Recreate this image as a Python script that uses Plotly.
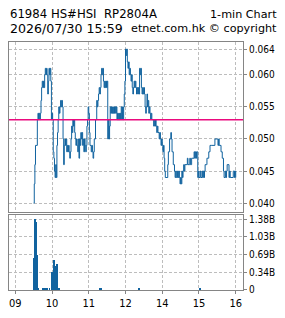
import plotly.graph_objects as go

# ---------------- data ----------------
price_times = [
    "09:30","09:31","09:32","09:33","09:36","09:37","09:38","09:39","09:40","09:41",
    "09:42","09:43","09:44","09:45","09:46","09:47","09:48","09:49","09:50","09:51",
    "09:52","09:53","09:54","09:55","09:56","09:57","09:58","09:59","10:00","10:01",
    "10:02","10:03","10:04","10:05","10:06","10:07","10:08","10:09","10:10","10:11",
    "10:12","10:13","10:14","10:15","10:16","10:17","10:18","10:19","10:20","10:21",
    "10:22","10:23","10:24","10:25","10:26","10:27","10:28","10:29","10:30","10:31",
    "10:32","10:33","10:34","10:35","10:36","10:37","10:38","10:39","10:40","10:41",
    "10:42","10:43","10:44","10:45","10:46","10:47","10:48","10:49","10:50","10:51",
    "10:52","10:53","10:54","10:55","10:56","10:57","10:58","10:59","11:00","11:01",
    "11:02","11:04","11:05","11:06","11:07","11:08","11:09","11:11","11:13","11:14",
    "11:15","11:16","11:17","11:18","11:19","11:20","11:21","11:22","11:23","11:24",
    "11:25","11:26","11:27","11:28","11:29","11:30","11:31","11:32","11:33","11:34",
    "11:35","11:36","11:37","11:38","11:39","11:40","11:41","11:42","11:43","11:44",
    "11:45","11:46","11:47","11:48","11:49","11:50","11:51","11:52","11:53","11:54",
    "11:55","11:56","11:57","11:58","11:59",
    "13:00","13:01","13:02","13:03","13:04","13:05","13:06","13:07","13:08","13:09",
    "13:10","13:11","13:12","13:13","13:14","13:15","13:16","13:17","13:18","13:19",
    "13:20","13:21","13:22","13:23","13:24","13:25","13:26","13:27","13:28","13:29",
    "13:30","13:31","13:32","13:33","13:34","13:35","13:36","13:37","13:38","13:39",
    "13:40","13:41","13:42","13:43","13:46","13:47","13:48","13:49","13:50","13:51",
    "13:52","13:53","13:55","13:56","13:57","13:58","13:59","14:00","14:01","14:02",
    "14:03","14:04","14:05","14:09","14:10","14:12","14:14","14:15","14:16","14:18",
    "14:20","14:21","14:22","14:23","14:25","14:26","14:27","14:28","14:29","14:30",
    "14:31","14:32","14:33","14:34","14:35","14:36","14:37","14:41","14:42","14:44",
    "14:45","14:46","14:48","14:52","14:53","14:54","14:55","14:56","14:58","14:59",
    "15:00","15:02","15:03","15:05","15:06","15:07","15:08","15:09","15:10","15:12",
    "15:13","15:15","15:16","15:18","15:21","15:26","15:31","15:32","15:33","15:36",
    "15:38","15:40","15:41","15:43","15:44","15:45","15:46","15:49","15:50","15:51",
    "15:56","15:58","15:59","16:00",
]
price_values = [
    0.040,0.043,0.046,0.049,0.053,0.054,0.053,0.054,0.053,0.054,
    0.056,0.058,0.059,0.058,0.059,0.058,0.060,0.061,0.060,0.061,
    0.060,0.057,0.059,0.061,0.060,0.061,0.059,0.053,0.054,0.053,
    0.048,0.047,0.045,0.044,0.046,0.044,0.049,0.051,0.053,0.055,
    0.054,0.055,0.056,0.055,0.056,0.055,0.050,0.046,0.049,0.050,
    0.049,0.050,0.048,0.049,0.048,0.049,0.048,0.047,0.048,0.050,
    0.052,0.051,0.053,0.052,0.053,0.051,0.050,0.049,0.050,0.049,
    0.048,0.050,0.047,0.050,0.049,0.051,0.050,0.051,0.049,0.050,
    0.048,0.050,0.049,0.048,0.049,0.052,0.053,0.055,0.054,0.051,
    0.049,0.048,0.049,0.048,0.047,0.048,0.050,0.053,0.056,0.055,
    0.056,0.057,0.058,0.057,0.058,0.060,0.061,0.060,0.061,0.059,
    0.058,0.059,0.058,0.059,0.058,0.059,0.050,0.053,0.050,0.052,
    0.055,0.054,0.055,0.054,0.055,0.054,0.055,0.054,0.055,0.054,
    0.055,0.053,0.054,0.053,0.054,0.053,0.054,0.053,0.055,0.053,
    0.055,0.053,0.055,0.057,0.059,
    0.064,0.063,0.064,0.062,0.061,0.062,0.060,0.061,0.060,0.059,
    0.060,0.058,0.057,0.058,0.059,0.058,0.059,0.058,0.057,0.058,
    0.057,0.058,0.057,0.061,0.060,0.061,0.058,0.057,0.058,0.057,
    0.058,0.057,0.055,0.054,0.055,0.057,0.055,0.056,0.054,0.055,
    0.054,0.053,0.054,0.053,0.052,0.053,0.052,0.053,0.052,0.051,
    0.052,0.051,0.050,0.051,0.050,0.049,0.050,0.049,0.048,0.049,
    0.047,0.045,0.044,0.046,0.048,0.050,0.051,0.050,0.048,0.046,
    0.045,0.044,0.045,0.044,0.045,0.044,0.045,0.044,0.043,0.044,
    0.043,0.045,0.044,0.045,0.046,0.045,0.046,0.047,0.046,0.046,
    0.047,0.046,0.047,0.048,0.047,0.048,0.047,0.048,0.044,0.045,
    0.044,0.045,0.044,0.045,0.044,0.045,0.044,0.045,0.046,0.046,
    0.047,0.047,0.048,0.049,0.049,0.050,0.049,0.050,0.049,0.048,
    0.047,0.045,0.044,0.045,0.044,0.045,0.046,0.044,0.045,0.044,
    0.045,0.044,0.045,0.044,
]
prev_close = 0.053

vol_times = ["09:31","09:32","09:34","09:35","09:37","09:38","09:45","09:49","09:52","09:56",
             "10:00","10:02","10:03","10:05","10:07","10:08","10:10","10:11",
             "11:18","11:20","13:22","15:01"]
vol_values = [0.62e9,1.38e9,1.32e9,0.68e9,0.04e9,0.025e9,0.015e9,0.015e9,0.015e9,0.015e9,
              0.335e9,0.27e9,0.57e9,0.30e9,0.46e9,0.50e9,0.02e9,0.02e9,
              0.015e9,0.015e9,0.015e9,0.015e9]

price_ticks = [0.040, 0.045, 0.050, 0.055, 0.060, 0.064]
vol_ticks = [0, 0.345e9, 0.69e9, 1.035e9, 1.38e9]
vol_tick_text = ["0", "0.34B", "0.69B", "1.03B", "1.38B"]
hour_ticks = ["09:00", "10:00", "11:00", "12:00", "14:00", "15:00", "16:00"]
hour_labels = ["09", "10", "11", "12", "14", "15", "16"]

title_left = "61984 HS#HSI  RP2804A"
title_right = "1-min Chart"
sub_left = "2026/07/30 15:59"
sub_right = "etnet.com.hk © copyright"


def tpos(s):
    """trading-time axis position: lunch break (12:00-13:00) removed"""
    h, m = map(int, s.split(":"))
    v = h + m / 60.0
    return v if h < 13 else v - 1.0


W, H = 285, 318
L, R, T, B = 8, 42, 42, 20
plot_h = H - T - B

LINE_BLUE = "#11639f"
PINK = "#ea0a7e"
FRAME = "#858585"
GRID = "#bdbdbd"
TICKFONT = dict(family="DejaVu Sans Condensed, Liberation Sans Narrow, DejaVu Sans", size=10, color="#000")

fig = go.Figure()
fig.add_trace(go.Scatter(
    x=[tpos(t) for t in price_times], y=price_values, mode="lines",
    line=dict(color=LINE_BLUE, width=1, shape="hv"), xaxis="x", yaxis="y",
    hoverinfo="skip", showlegend=False))
fig.add_trace(go.Scatter(
    x=[8.8, 15.2], y=[prev_close, prev_close], mode="lines",
    line=dict(color=PINK, width=1.5), xaxis="x", yaxis="y",
    hoverinfo="skip", showlegend=False))
fig.add_trace(go.Bar(
    x=[tpos(t) for t in vol_times], y=vol_values, width=1.4 / 60,
    marker=dict(color=LINE_BLUE, line=dict(width=0)), xaxis="x2", yaxis="y2",
    hoverinfo="skip", showlegend=False))

xr = [8.829, 15.198]
tickv = [tpos(t) for t in hour_ticks]
common_x = dict(range=xr, showline=True, mirror=True, linecolor=FRAME, linewidth=1,
                showgrid=True, gridcolor=GRID, griddash="3px,2px", gridwidth=1,
                tickmode="array", tickvals=tickv, ticktext=hour_labels,
                zeroline=False, fixedrange=True)

main_bottom = (H - B - 217) / plot_h
vol_top = (H - B - 221) / plot_h

fig.update_layout(
    width=W, height=H, margin=dict(l=L, r=R, t=T, b=B, pad=0),
    paper_bgcolor="white", plot_bgcolor="white",
    bargap=0,
    xaxis=dict(**common_x, domain=[0, 1], anchor="y", showticklabels=False, ticks=""),
    xaxis2=dict(**common_x, domain=[0, 1], anchor="y2", showticklabels=True,
                ticks="outside", ticklen=3, tickcolor=FRAME,
                tickfont=dict(TICKFONT, size=11)),
    yaxis=dict(domain=[main_bottom, 1], range=[0.0387, 0.0651], side="right",
               showline=True, mirror=True, linecolor=FRAME, linewidth=1,
               showgrid=True, gridcolor=GRID, griddash="3px,2px",
               tickmode="array", tickvals=price_ticks,
               ticktext=[f"{v:.3f}" for v in price_ticks],
               ticks="outside", ticklen=3, tickcolor=FRAME, tickfont=TICKFONT,
               zeroline=False, anchor="x"),
    yaxis2=dict(domain=[0, vol_top], range=[0, 1.456e9], side="right",
                showline=True, mirror=True, linecolor=FRAME, linewidth=1,
                showgrid=True, gridcolor=GRID, griddash="3px,2px",
                tickmode="array", tickvals=vol_ticks, ticktext=vol_tick_text,
                ticks="outside", ticklen=3, tickcolor=FRAME, tickfont=TICKFONT,
                zeroline=False, anchor="x2"),
)

def px_x(p):
    return (p - L) / (W - L - R)

def px_y(p):
    return (H - B - p) / plot_h

for text, x, anchor, y, size in [
    (title_left, 8.5, "left", 13.3, 11.7),
    (title_right, 278.5, "right", 13.3, 11.2),
    (sub_left, 8.5, "left", 28.5, 12.6),
    (sub_right, 278.5, "right", 28.5, 11.2),
]:
    fig.add_annotation(text=text, xref="paper", yref="paper", x=px_x(x), y=px_y(y),
                       xanchor=anchor, yanchor="middle", showarrow=False,
                       font=dict(family="DejaVu Sans", size=size, color="#000"),
                       borderpad=0)

fig.write_html("out.html")
